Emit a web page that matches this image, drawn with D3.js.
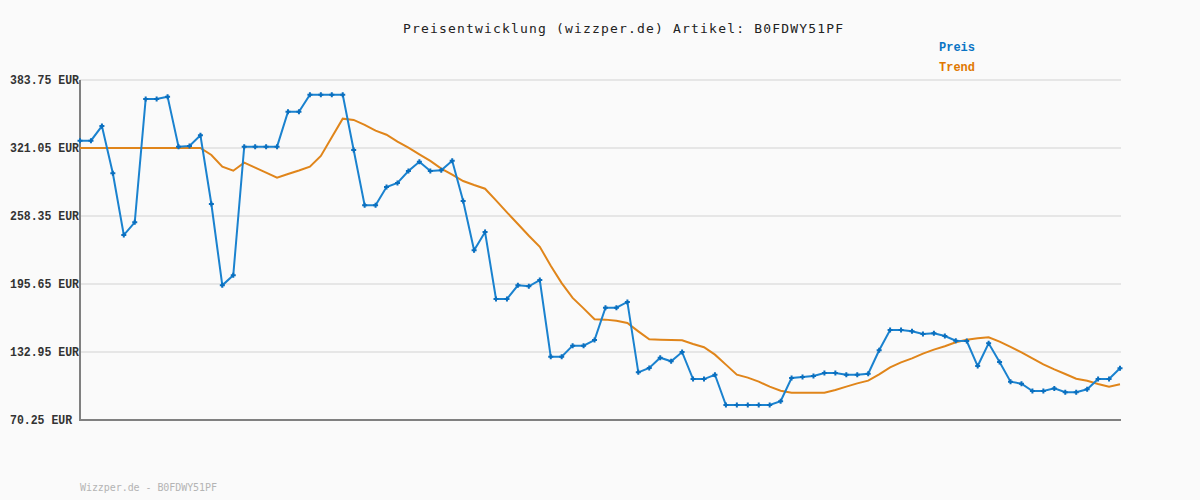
<!DOCTYPE html>
<html>
<head>
<meta charset="utf-8">
<script src="https://cdn.jsdelivr.net/npm/d3@7"></script>
<style>
  body { margin: 0; background: #fafafa; }
  svg { display: block; }
</style>
</head>
<body>
<div class="chart"></div>
<script>
/* Preisentwicklung chart */

// price per sample (EUR)
var preis = [
    327.8, 327.8, 341.3, 297.7, 240.8, 252.5, 366.2, 366.2, 368.4, 322.3,
    322.9, 332.7, 269.4, 194.4, 203.7, 322.3, 322.3, 322.3, 322.3, 354.5,
    354.5, 370.2, 370.2, 370.2, 370.2, 319.2, 268.2, 268.2, 285.1, 288.8,
    299.8, 308.4, 299.8, 300.5, 309.3, 272.2, 226.7, 243.6, 181.8, 181.8,
    194.4, 193.5, 199.3, 128.6, 128.6, 138.8, 138.8, 144.0, 173.8, 173.8,
    179.1, 114.2, 118.2, 127.7, 124.4, 132.9, 108.0, 108.0, 112.0, 84.1,
    84.1, 84.1, 84.1, 84.1, 87.5, 109.0, 109.9, 110.8, 113.6, 113.6,
    112.0, 112.0, 112.9, 134.5, 153.2, 153.2, 152.0, 149.5, 150.2, 147.7,
    143.4, 143.1, 120.0, 141.0, 123.7, 105.6, 103.7, 97.0, 97.0, 99.4,
    95.8, 95.8, 98.6, 108.0, 108.0, 117.9
];

// trend (moving average)
var trend = [
    321.05, 321.05, 321.05, 321.05, 321.05, 321.05, 321.05, 321.05, 321.05, 321.05,
    321.05, 321.05, 314.6, 303.8, 300.1, 307.5, 302.9, 298.3, 293.7, 297.1,
    300.3, 303.8, 313.7, 330.9, 348.1, 346.9, 342.3, 337.0, 333.3, 326.9,
    321.3, 315.2, 309.1, 302.0, 296.4, 290.6, 286.9, 283.5, 272.8, 261.7,
    251.0, 240.2, 230.0, 212.5, 196.5, 182.8, 173.2, 163.1, 162.8, 161.8,
    159.7, 152.0, 144.6, 144.3, 144.0, 143.7, 140.3, 137.3, 130.5, 121.3,
    112.0, 109.3, 105.6, 101.0, 97.3, 95.4, 95.4, 95.4, 95.4, 97.9,
    101.0, 104.0, 106.5, 112.4, 118.8, 123.4, 127.1, 131.4, 135.1, 138.2,
    141.9, 144.3, 145.6, 146.5, 142.5, 137.6, 132.7, 127.1, 121.6, 117.0,
    112.7, 108.3, 106.5, 103.5, 101.0, 103.2
];

var yTicks = [70.25, 132.95, 195.65, 258.35, 321.05, 383.75];

var artikel = "B0FDWY51PF";

var w = 1200;
var h = 500;
var plotL = 80, plotR = 1120, plotT = 80, plotB = 420;

var svg = d3.select(".chart")
    .append("svg")
    .attr("width", w)
    .attr("height", h);

svg.append("rect")
    .attr("width", w)
    .attr("height", h)
    .attr("fill", "#fafafa");

var x = d3.scaleLinear()
    .domain([0, preis.length - 1])
    .range([plotL, plotR]);

var y = d3.scaleLinear()
    .domain([yTicks[0], yTicks[yTicks.length - 1]])
    .range([plotB, plotT]);

//grid
svg.selectAll("line.grid")
    .data(yTicks.slice(1))
    .enter()
    .append("line")
    .attr("class", "grid")
    .attr("x1", plotL)
    .attr("x2", plotR + 1)
    .attr("y1", function (d) { return y(d); })
    .attr("y2", function (d) { return y(d); })
    .attr("stroke", "#e6e6e6")
    .attr("stroke-width", 2);

//y labels
svg.selectAll("text.ylab")
    .data(yTicks)
    .enter()
    .append("text")
    .attr("class", "ylab")
    .attr("x", 10)
    .attr("y", function (d) { return y(d) + 4; })
    .attr("font-family", "Liberation Mono, monospace")
    .attr("font-size", 12)
    .attr("font-weight", "bold")
    .attr("fill", "#333")
    .text(function (d) { return d.toFixed(2) + " EUR"; })
    .attr("textLength", function (d) { return (d.toFixed(2) + " EUR").length * 6.9; })
    .attr("lengthAdjust", "spacingAndGlyphs");

//axes
svg.append("path")
    .attr("d", "M" + plotL + "," + plotT + "V" + plotB + "H" + (plotR + 1))
    .attr("fill", "none")
    .attr("stroke", "#808080")
    .attr("stroke-width", 2);

var line = d3.line()
    .x(function (d, i) { return x(i); })
    .y(function (d) { return y(d); });

svg.append("path")
    .datum(trend)
    .attr("d", line)
    .attr("fill", "none")
    .attr("stroke", "#e0851a")
    .attr("stroke-width", 2);

svg.append("path")
    .datum(preis)
    .attr("d", line)
    .attr("fill", "none")
    .attr("stroke", "#1a82cf")
    .attr("stroke-width", 2);

//markers
svg.selectAll("path.mark")
    .data(preis)
    .enter()
    .append("path")
    .attr("class", "mark")
    .attr("d", function (d, i) {
        var px = x(i), py = y(d);
        return "M" + (px - 2.5) + "," + py + "H" + (px + 2.5) +
            "M" + px + "," + (py - 2.5) + "V" + (py + 2.5);
    })
    .attr("stroke", "#0a6fbf")
    .attr("stroke-width", 2);

//title
svg.append("text")
    .attr("x", 403)
    .attr("y", 33)
    .attr("textLength", 440)
    .attr("font-family", "DejaVu Sans Mono, monospace")
    .attr("font-size", 13)
    .attr("fill", "#222")
    .text("Preisentwicklung (wizzper.de) Artikel: " + artikel);

//legend
svg.append("text")
    .attr("x", 939)
    .attr("y", 51)
    .attr("font-family", "Liberation Mono, monospace")
    .attr("font-size", 12)
    .attr("font-weight", "bold")
    .attr("fill", "#0a74c4")
    .text("Preis");

svg.append("text")
    .attr("x", 939)
    .attr("y", 71)
    .attr("font-family", "Liberation Mono, monospace")
    .attr("font-size", 12)
    .attr("font-weight", "bold")
    .attr("fill", "#e07800")
    .text("Trend");

//footer
svg.append("text")
    .attr("x", 80)
    .attr("y", 491)
    .attr("textLength", 137)
    .attr("font-family", "DejaVu Sans Mono, monospace")
    .attr("font-size", 10)
    .attr("fill", "#b4b4b4")
    .text("Wizzper.de - " + artikel);
</script>
</body>
</html>
